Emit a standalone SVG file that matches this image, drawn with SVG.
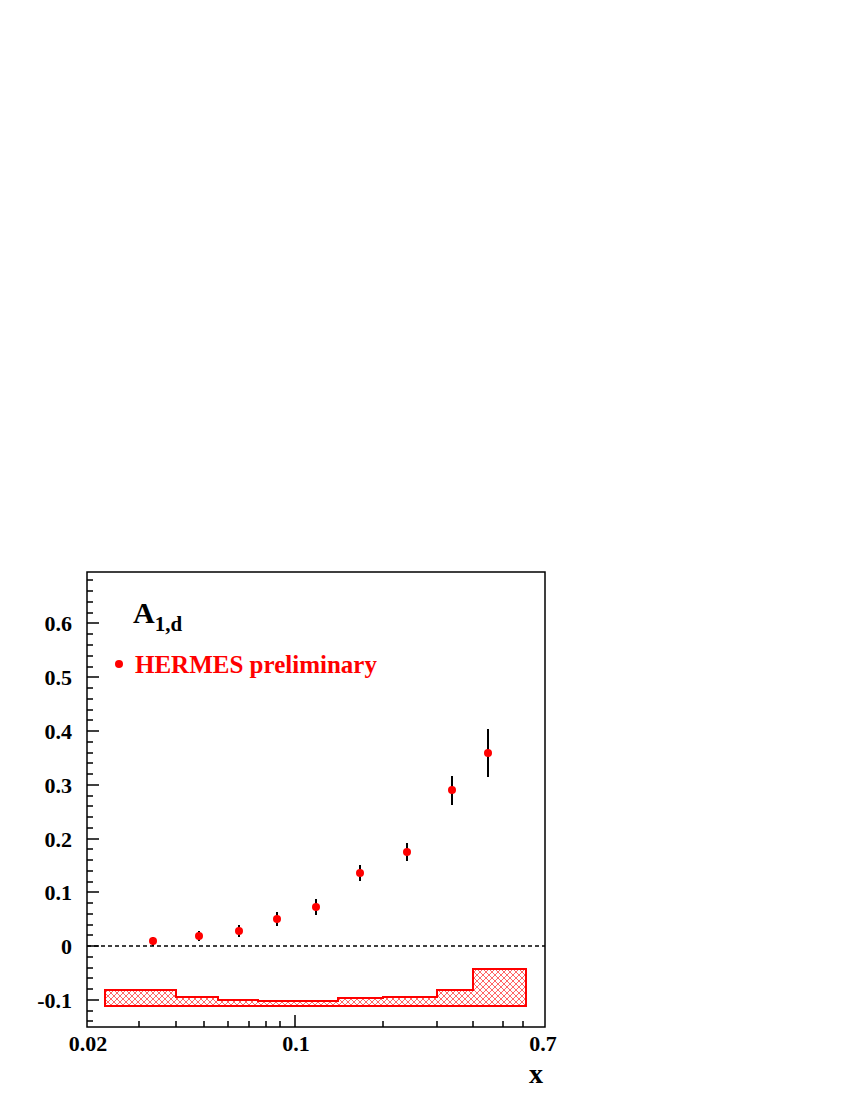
<svg xmlns="http://www.w3.org/2000/svg" width="855" height="1107" viewBox="0 0 855 1107">
<style>
.t{font-family:"Liberation Serif",serif;font-weight:bold;font-size:22px}
.ax{stroke:#000;stroke-width:1.5;fill:none}
.e{stroke:#000;stroke-width:2}
.p{fill:#f00}
</style>
<defs>
<pattern id="h" width="6" height="6" patternUnits="userSpaceOnUse">
<path d="M0,0L6,6M6,0L0,6" stroke="#f00" stroke-width="0.6"/>
</pattern>
</defs>
<rect width="855" height="1107" fill="#fff"/>
<g id="band">
<path d="M105,1006V990H176V997H218V1000H258V1001H338V998H383V997H437V990H473V969H526V1006Z" fill="url(#h)" stroke="#f00" stroke-width="2"/>
</g>
<g id="axes">
<rect x="87" y="572" width="458" height="455" class="ax"/>
<path class="ax" d="M87,946h12M87,892h12M87,839h12M87,785h12M87,731h12M87,677h12M87,623h12M87,1000h12"/>
<path class="ax" d="M87,1021h6M87,1011h6M87,989h6M87,978h6M87,968h6M87,957h6M87,935h6M87,925h6M87,914h6M87,903h6M87,882h6M87,871h6M87,860h6M87,849h6M87,828h6M87,817h6M87,806h6M87,796h6M87,774h6M87,763h6M87,753h6M87,742h6M87,720h6M87,710h6M87,699h6M87,688h6M87,667h6M87,656h6M87,645h6M87,634h6M87,613h6M87,602h6M87,591h6M87,580h6"/>
<path class="ax" d="M295,1027v-12M139,1027v-6M176,1027v-6M204,1027v-6M228,1027v-6M249,1027v-6M266,1027v-6M280,1027v-6M383,1027v-6M437,1027v-6M473,1027v-6M503,1027v-6M523,1027v-6"/>
<line x1="87" y1="946" x2="545" y2="946" stroke="#000" stroke-width="1.5" stroke-dasharray="4,3"/>
<g class="t" text-anchor="end">
<text x="72" y="954">0</text>
<text x="72" y="1008">-0.1</text>
<text x="72" y="900">0.1</text>
<text x="72" y="847">0.2</text>
<text x="72" y="793">0.3</text>
<text x="72" y="739">0.4</text>
<text x="72" y="685">0.5</text>
<text x="72" y="631">0.6</text>
</g>
<g class="t" text-anchor="middle">
<text x="88" y="1051">0.02</text>
<text x="296" y="1051">0.1</text>
<text x="543" y="1051">0.7</text>
</g>
<text x="529" y="1083" class="t" style="font-size:28px">x</text>
</g>
<g id="data">
<path class="e" d="M153,937v9M199,931v10M239,925v12M277,912v14M316,899v16M360,865v16M407,843v18M452,776v29M488,729v48"/>
<circle class="p" cx="153" cy="941" r="4"/>
<circle class="p" cx="199" cy="936" r="4"/>
<circle class="p" cx="239" cy="931" r="4"/>
<circle class="p" cx="277" cy="919" r="4"/>
<circle class="p" cx="316" cy="907" r="4"/>
<circle class="p" cx="360" cy="873" r="4"/>
<circle class="p" cx="407" cy="852" r="4"/>
<circle class="p" cx="452" cy="790" r="4"/>
<circle class="p" cx="488" cy="753" r="4"/>
</g>
<g id="legend">
<text x="133" y="623" class="t" style="font-size:30px">A<tspan dy="8" style="font-size:21px">1,d</tspan></text>
<circle class="p" cx="119" cy="664" r="4"/>
<text x="135" y="673" class="t" fill="#f00" style="font-size:25px">HERMES preliminary</text>
</g>
</svg>
